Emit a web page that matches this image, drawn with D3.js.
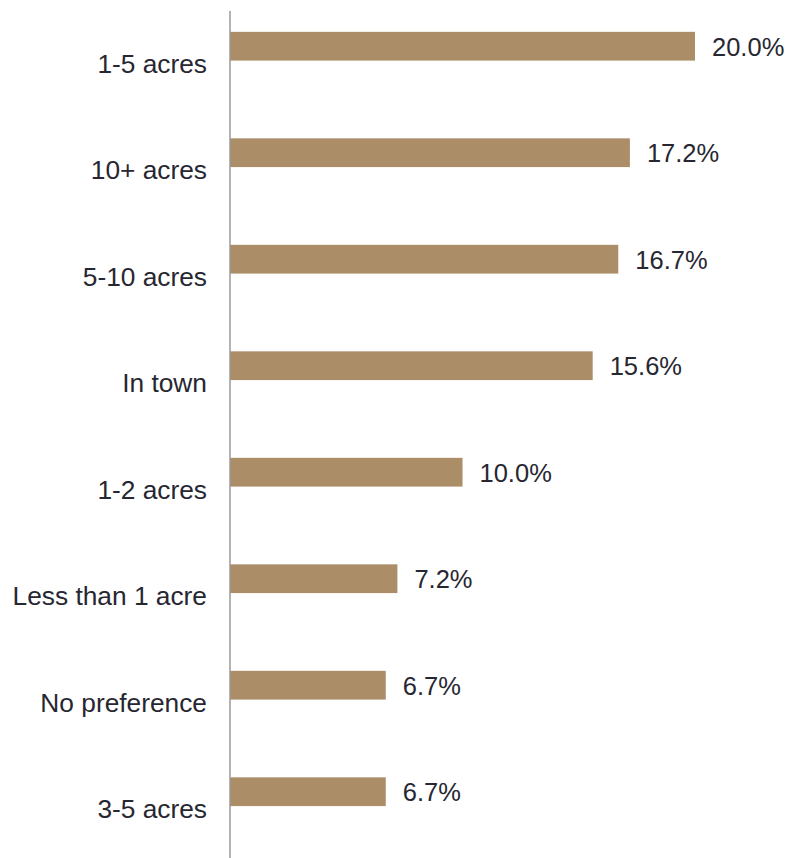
<!DOCTYPE html>
<html>
<head>
<meta charset="utf-8">
<script src="https://cdn.jsdelivr.net/npm/d3@7"></script>
<style>
  html, body { margin: 0; padding: 0; background: #fff; }
  svg { display: block; }
  text { font-family: "Liberation Sans", Arial, sans-serif; }
</style>
</head>
<body>
<svg id="chart" width="788" height="858"></svg>
<script>
const categories = ["1-5 acres", "10+ acres", "5-10 acres", "In town", "1-2 acres", "Less than 1 acre", "No preference", "3-5 acres"];
const values = [20.0, 17.2, 16.7, 15.6, 10.0, 7.2, 6.7, 6.7];
const valueLabels = ["20.0%", "17.2%", "16.7%", "15.6%", "10.0%", "7.2%", "6.7%", "6.7%"];

const W = 788, H = 858;
const axisX = 230;
const svg = d3.select("#chart");

const x = d3.scaleLinear().domain([0, 20]).range([axisX, 695]);
const y = d3.scaleBand().domain(categories).range([10, 862]).padding(0);

const bw = y.bandwidth();
const barOffset = bw * 0.205;
const barH = bw * 0.27;

const data = categories.map((c, i) => ({ cat: c, v: values[i], lbl: valueLabels[i] }));

svg.selectAll("rect.bar").data(data).join("rect")
  .attr("class", "bar")
  .attr("x", x(0))
  .attr("y", d => y(d.cat) + barOffset)
  .attr("width", d => x(d.v) - x(0))
  .attr("height", barH)
  .attr("fill", "#ab8d67");

svg.selectAll("text.val").data(data).join("text")
  .attr("class", "val")
  .attr("x", d => x(d.v) + 17)
  .attr("y", d => y(d.cat) + barOffset + barH / 2 + 0.5)
  .attr("dy", "0.35em")
  .attr("font-size", 25.5)
  .attr("fill", "#272731")
  .text(d => d.lbl);

svg.selectAll("text.cat").data(data).join("text")
  .attr("class", "cat")
  .attr("x", 207)
  .attr("y", d => y(d.cat) + bw / 2 + 0.5)
  .attr("dy", "0.35em")
  .attr("text-anchor", "end")
  .attr("font-size", 26.3)
  .attr("fill", "#272731")
  .text(d => d.cat);

svg.append("line")
  .attr("x1", axisX).attr("x2", axisX)
  .attr("y1", 11).attr("y2", H)
  .attr("stroke", "#9a9a9a")
  .attr("stroke-width", 1.5);
</script>
</body>
</html>
